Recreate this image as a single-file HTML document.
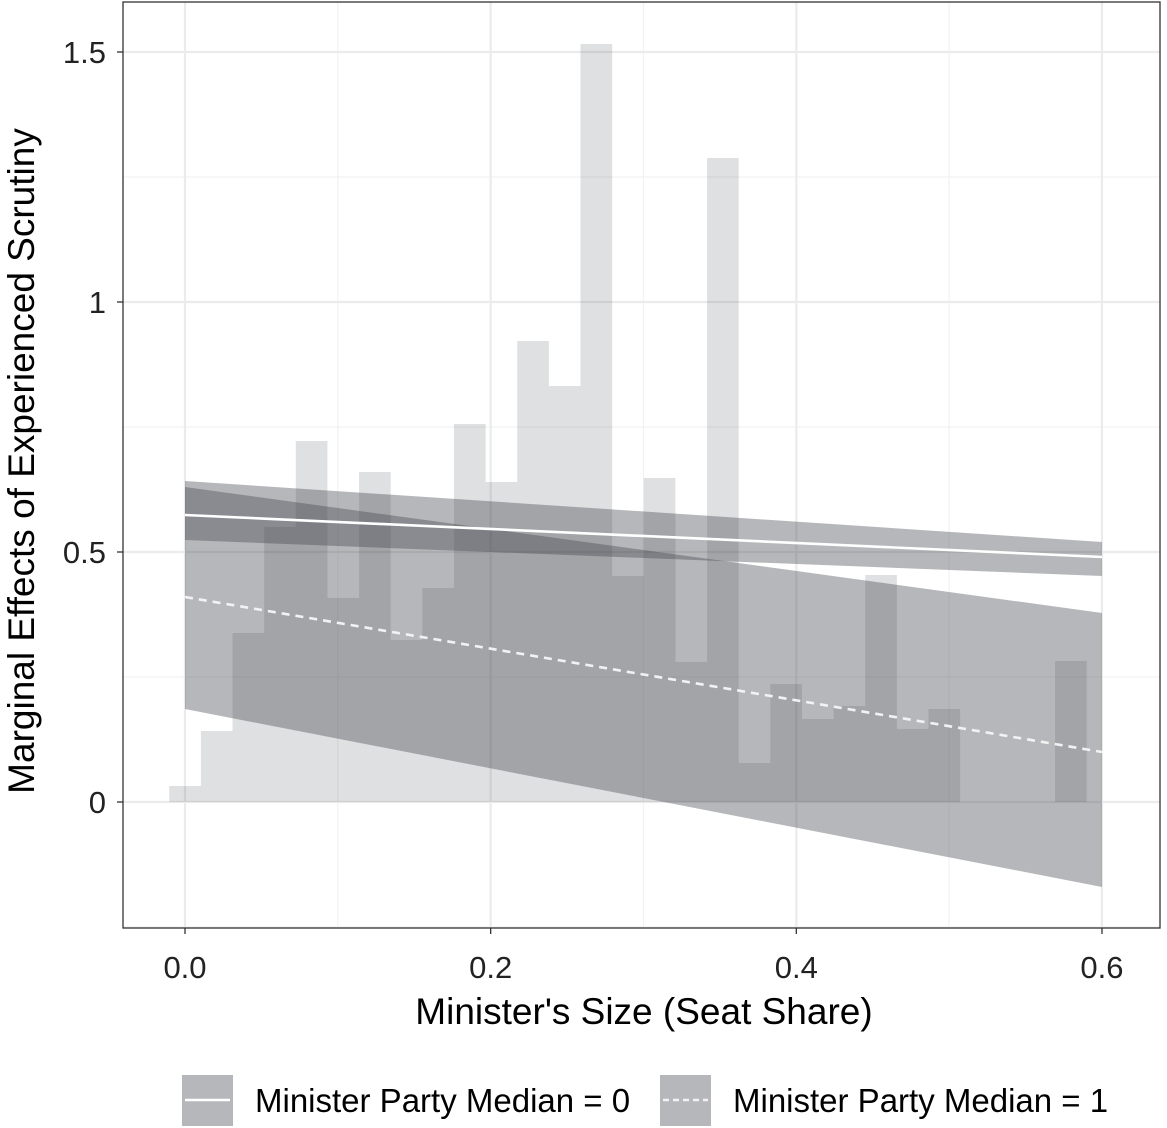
<!DOCTYPE html>
<html><head><meta charset="utf-8"><style>
body{margin:0;background:#fff;}
svg{display:block;font-family:"Liberation Sans",Arial,sans-serif;}
</style></head><body>
<svg id="chart" width="1167" height="1128" viewBox="0 0 1167 1128" xmlns="http://www.w3.org/2000/svg"></svg>
<script>
// Data
const binStart = -0.0103;
const binWidth = 0.0207;
const histHeights = [0.032,0.142,0.338,0.55,0.722,0.408,0.66,0.324,0.428,0.756,0.64,0.922,0.832,1.516,0.452,0.648,0.28,1.288,0.078,0.236,0.166,0.192,0.454,0.146,0.186,0,0,0,0.282];
const bandX = [0, 0.6];
const ribbonA_upper = [0.642, 0.52];
const ribbonA_lower = [0.524, 0.452];
const lineA = [0.574, 0.49];
const ribbonB_upper = [0.63, 0.378];
const ribbonB_lower = [0.186, -0.17];
const lineB = [0.41, 0.1];
const xTicks = [0, 0.2, 0.4, 0.6];
const xTickLabels = ["0.0","0.2","0.4","0.6"];
const xMinor = [0.1, 0.3, 0.5];
const yTicks = [0, 0.5, 1, 1.5];
const yTickLabels = ["0","0.5","1","1.5"];
const yMinor = [-0.25, 0.25, 0.75, 1.25];

const NS = "http://www.w3.org/2000/svg";
const svg = document.getElementById('chart');
const L=123, R=1160, T=2, B=928;
const x = v => 185 + v*1528.3;
const y = v => 802 - v*500;
function el(tag, attrs, parent){const e=document.createElementNS(NS,tag);for(const k in attrs)e.setAttribute(k,attrs[k]);(parent||svg).appendChild(e);return e;}

const grid = el('g',{});


yMinor.forEach(v=>el('line',{x1:L,x2:R,y1:y(v),y2:y(v),stroke:'#f2f2f2','stroke-width':1.2},grid));
xMinor.forEach(v=>el('line',{y1:T,y2:B,x1:x(v),x2:x(v),stroke:'#f2f2f2','stroke-width':1.2},grid));
yTicks.forEach(v=>el('line',{x1:L,x2:R,y1:y(v),y2:y(v),stroke:'#ebebeb','stroke-width':2.2},grid));
xTicks.forEach(v=>el('line',{y1:T,y2:B,x1:x(v),x2:x(v),stroke:'#ebebeb','stroke-width':2.2},grid));

const hist = el('g',{});


histHeights.forEach((h,i)=>{
  if(h<=0) return;
  const x0=x(binStart+i*binWidth), x1=x(binStart+(i+1)*binWidth);
  const r=el('rect',{x:x0,y:y(h),width:x1-x0,height:y(0)-y(h),fill:'rgb(68,70,78)','fill-opacity':0.17},hist);
  
  
});

function ribbon(up,lo,name){
  const d=`M${x(bandX[0])},${y(up[0])}L${x(bandX[1])},${y(up[1])}L${x(bandX[1])},${y(lo[1])}L${x(bandX[0])},${y(lo[0])}Z`;
  const p=el('path',{d,fill:'rgb(68,70,78)','fill-opacity':0.39});
  
  
}
ribbon(ribbonA_upper,ribbonA_lower,'ci-ribbon-median-0');
ribbon(ribbonB_upper,ribbonB_lower,'ci-ribbon-median-1');
const la=el('line',{x1:x(bandX[0]),y1:y(lineA[0]),x2:x(bandX[1]),y2:y(lineA[1]),stroke:'#fff','stroke-width':2.6});


const lb=el('line',{x1:x(bandX[0]),y1:y(lineB[0]),x2:x(bandX[1]),y2:y(lineB[1]),stroke:'#f2f2f2','stroke-width':2.6,'stroke-dasharray':'8 6'});



const border=el('rect',{x:L,y:T,width:R-L,height:B-T,fill:'none',stroke:'#333','stroke-width':1.3});



yTicks.forEach((v,i)=>{
  el('line',{x1:L-6,x2:L,y1:y(v),y2:y(v),stroke:'#333','stroke-width':1.3});
  const t=el('text',{x:L-17,y:y(v)+11,'text-anchor':'end','font-size':31,fill:'#222'});
  t.textContent=yTickLabels[i];
  
  
});
xTicks.forEach((v,i)=>{
  el('line',{y1:B,y2:B+6,x1:x(v),x2:x(v),stroke:'#333','stroke-width':1.3});
  const t=el('text',{x:x(v),y:978,'text-anchor':'middle','font-size':31,fill:'#222'});
  t.textContent=xTickLabels[i];
  
  
});
</script>
<svg style="position:absolute;left:0;top:0" width="1167" height="1128">
<text x="644" y="1024" text-anchor="middle" font-size="37" fill="#000" font-family="Liberation Sans, Arial, sans-serif">Minister's Size (Seat Share)</text>
<text transform="translate(34,461) rotate(-90)" text-anchor="middle" font-size="37" fill="#000" font-family="Liberation Sans, Arial, sans-serif">Marginal Effects of Experienced Scrutiny</text>
<g font-family="Liberation Sans, Arial, sans-serif">
<rect x="182" y="1075" width="51" height="51" fill="#b6b7ba"/>
<line x1="185" x2="230" y1="1100" y2="1100" stroke="#fff" stroke-width="2.6"/>
<text x="255" y="1112" font-size="33" fill="#000">Minister Party Median = 0</text>
<rect x="660" y="1075" width="51" height="51" fill="#b6b7ba"/>
<line x1="663" x2="708" y1="1100" y2="1100" stroke="#f2f2f2" stroke-width="2.6" stroke-dasharray="6 4"/>
<text x="733" y="1112" font-size="33" fill="#000">Minister Party Median = 1</text>
</g>
</svg>
</body></html>
